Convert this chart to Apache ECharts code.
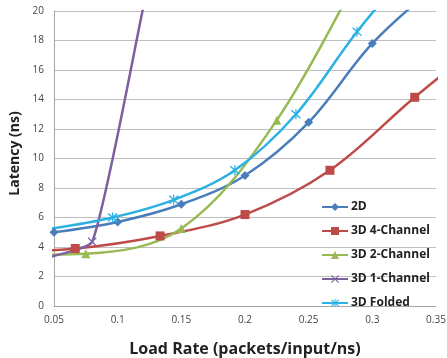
<!DOCTYPE html>
<html>
<head>
<meta charset="utf-8">
<script src="https://cdn.jsdelivr.net/npm/echarts@6/dist/echarts.min.js"></script>
<style>
    html, body { margin: 0; padding: 0; background: #fff; }
    #chart { width: 447px; height: 358px; }
</style>
</head>
<body>
<div id="chart"></div>
<script>
// 各曲线数据 [负载率, 延迟]
var seriesNames = ['2D', '3D 4-Channel', '3D 2-Channel', '3D 1-Channel', '3D Folded'];
var data2D = [[0.05, 5.0], [0.1, 5.7], [0.15, 6.9], [0.2, 8.85], [0.25, 12.45], [0.3, 17.8], [0.35, 21.7]];
var data4Ch = [[0, 3.65], [0.0667, 3.9], [0.1333, 4.75], [0.2, 6.2], [0.2667, 9.2], [0.3333, 14.15], [0.4, 18.8]];
var data2Ch = [[0, 3.45], [0.075, 3.55], [0.15, 5.25], [0.225, 12.6], [0.3, 24.3]];
var data1Ch = [[0.04, 3.2], [0.08, 4.35], [0.12, 20.2], [0.16, 36]];
var dataFolded = [[0.048, 5.25], [0.096, 6.0], [0.144, 7.2], [0.192, 9.2], [0.24, 13.0], [0.288, 18.6], [0.336, 23.5]];
var xTicks = [0.05, 0.1, 0.15, 0.2, 0.25, 0.3, 0.35];

var colors = ['#4A7EBB', '#BE4B48', '#98B954', '#7D60A0', '#2CB1E3'];
var crossPath = 'path://M0,1L1,0L5,4L9,0L10,1L6,5L10,9L9,10L5,6L1,10L0,9L4,5Z';
var starPath = 'path://M0,1.6L1,0.6L5,4.6L9,0.6L10,1.6L6,5.6L10,9.6L9,10.6L5,6.6L1,10.6L0,9.6L4,5.6Z M4.4,0L5.6,0L5.6,11.2L4.4,11.2Z';

function makeSeries(name, data, color, symbol, size, smooth){
    return {
        name: name,
        type: 'line',
        data: data,
        smooth: smooth,
        clip: true,
        symbol: symbol,
        symbolSize: size,
        showAllSymbol: true,
        lineStyle: { color: color, width: 2.5 },
        itemStyle: { color: color },
        emphasis: { disabled: true }
    };
}

var chart = echarts.init(document.getElementById('chart'));
chart.setOption({
    animation: false,
    grid: { left: 54, right: 11, top: 11, bottom: 52, outerBoundsMode: 'none', containLabel: false },
    legend: {
        orient: 'vertical',
        left: 316,
        top: 196,
        itemWidth: 26,
        itemHeight: 10,
        itemGap: 12,
        textStyle: { fontFamily: 'Open Sans', fontWeight: 'bold', fontSize: 12, color: '#222', padding: [0, 0, 0, -2] },
        data: seriesNames
    },
    xAxis: {
        type: 'value',
        min: 0.05,
        max: 0.35,
        interval: 0.05,
        name: 'Load Rate (packets/input/ns)',
        nameLocation: 'middle',
        nameGap: 35,
        nameTextStyle: { fontFamily: 'Open Sans', fontWeight: 'bold', fontSize: 16, color: '#222' },
        axisLine: { lineStyle: { color: '#A6A6A6' } },
        axisTick: { show: false },
        splitLine: { show: false },
        axisLabel: {
            fontFamily: 'Open Sans', fontSize: 10, color: '#444', margin: 9,
            formatter: function(v){ return String(+v.toFixed(2)); }
        }
    },
    yAxis: {
        type: 'value',
        min: 0,
        max: 20,
        interval: 2,
        name: 'Latency (ns)',
        nameLocation: 'middle',
        nameGap: 31,
        nameTextStyle: { fontFamily: 'Open Sans', fontWeight: 'bold', fontSize: 14, color: '#222', padding: [0, 0, 0, 10] },
        axisLine: { show: true, lineStyle: { color: '#A6A6A6' } },
        axisTick: { show: false },
        splitLine: { lineStyle: { color: '#BFBFBF', width: 1 } },
        axisLabel: { fontFamily: 'Open Sans', fontSize: 10, color: '#444', margin: 10 }
    },
    series: [
        makeSeries(seriesNames[0], data2D, colors[0], 'diamond', 9, 0.35),
        makeSeries(seriesNames[1], data4Ch, colors[1], 'rect', 9, 0.35),
        makeSeries(seriesNames[2], data2Ch, colors[2], 'triangle', 9, 0.35),
        makeSeries(seriesNames[3], data1Ch, colors[3], crossPath, 9, 0.15),
        makeSeries(seriesNames[4], dataFolded, colors[4], starPath, 10, 0.35)
    ]
});
</script>
</body>
</html>
